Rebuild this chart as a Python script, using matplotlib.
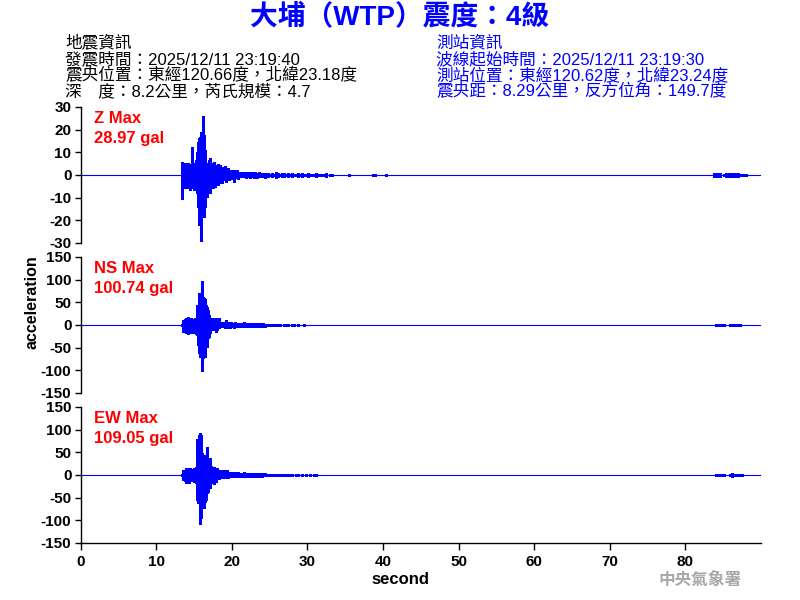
import numpy as np
import matplotlib.pyplot as plt

plt.rcParams['font.family'] = ['Liberation Sans', 'Noto Sans CJK TC']
plt.rcParams['axes.unicode_minus'] = False

# envelope of each trace, one value per pixel column (gal)
T0 = 13.42      # time of the first column (s)
STEP = 0.1322   # seconds per column

z_hi = [5.9, 5.1, 5.4, 4.4, 5.1, 4.4, 5.4, 4.0, 4.9, 3.7,
        12.5, 4.4, 4.4, 5.4, 6.6, 10.3, 14.7, 16.2, 16.9, 19.1,
        18.4, 26.2, 17.6, 11.0, 5.1, 3.7, 2.2, 6.6, 7.4, 5.1,
        2.9, 5.1, 5.9, 3.7, 4.4, 2.9, 4.9, 4.0, 4.4, 2.9,
        3.7, 2.2, 2.9, 4.0, 2.2, 2.5, 2.9, 1.5, 2.2, 1.9,
        2.2, 1.5, 1.9, 2.2, 1.5, 2.2, 1.5, 0.7, 1.3, 1.0,
        1.5, 1.0, 1.3, 1.0, 0.7, 1.3, 0.9, 1.2, 0.8, 1.0,
        1.3, 0.7, 1.0, 1.2, 0.8, 1.0, 0.7, 1.2, 0.9, 1.0,
        0.8, 1.1, 0.7, 0.9]
z_lo = [-10.7, -5.1, -4.4, -5.9, -4.4, -5.1, -5.9, -4.4, -6.6, -5.1,
        -4.4, -5.9, -6.6, -5.9, -6.6, -8.1, -14.0, -22.0, -19.8, -28.97,
        -15.4, -14.0, -18.4, -14.0, -6.6, -9.6, -6.6, -8.1, -8.1, -5.1,
        -3.7, -5.9, -2.9, -5.1, -3.7, -2.2, -4.4, -2.9, -3.4, -2.5,
        -3.7, -2.2, -1.9, -2.2, -2.9, -1.5, -1.9, -2.2, -1.5, -1.0,
        -1.9, -1.5, -2.9, -1.5, -1.0, -0.7, -1.9, -0.7, -1.0, -0.7,
        -1.0, -0.7, -1.0, -0.9, -1.2, -0.7, -1.0, -0.8, -1.3, -0.7,
        -1.0, -0.9, -1.2, -0.7, -1.0, -1.3, -0.8, -0.7, -1.1, -0.9,
        -0.7, -1.0, -0.8, -1.2]

ns_hi = [2, 11, 11, 13, 15, 12, 18, 14, 12, 15,
         11, 14, 12, 15, 13, 44, 18, 70, 55, 59,
         97, 62, 59, 57, 44, 40, 33, 22, 12, 15,
         7, 15, 10, 12, 15, 11, 7, 15, 7, 6,
         4, 6, 7, 5, 10, 6, 7, 5, 4, 6,
         3, 5, 4, 6, 3, 5, 4, 3, 5, 4,
         3, 4, 6, 3, 4, 3, 5, 3, 4, 3,
         4, 3, 5, 3, 3, 4, 3, 5, 3, 4,
         3, 4, 3, 3]
ns_lo = [-2, -15, -12, -15, -18, -14, -20, -16, -17, -13,
         -17, -15, -16, -18, -20, -22, -44, -62, -70, -66,
         -100.74, -73, -70, -70, -44, -48, -29, -26, -17, -11,
         -12, -7, -11, -7, -15, -12, -7, -7, -5, -5,
         -4, -4, -5, -7, -5, -6, -4, -5, -6, -4,
         -5, -3, -6, -4, -3, -5, -3, -4, -3, -5,
         -4, -3, -3, -5, -3, -4, -3, -4, -5, -3,
         -3, -4, -3, -5, -3, -3, -4, -3, -4, -3,
         -4, -3, -3, -4]

ew_hi = [2, 10, 10, 9, 16, 14, 15, 13, 15, 12,
         13, 11, 15, 14, 18, 79, 18, 88, 92, 88,
         48, 44, 42, 40, 44, 62, 29, 26, 37, 20,
         15, 12, 18, 15, 12, 15, 12, 11, 10, 12,
         7, 10, 7, 11, 6, 10, 5, 7, 6, 5,
         4, 6, 5, 7, 4, 5, 6, 4, 5, 3,
         5, 4, 6, 3, 4, 5, 3, 4, 5, 3,
         4, 3, 5, 4, 3, 4, 3, 5, 3, 4,
         3, 4, 3, 4]
ew_lo = [-2, -12, -12, -13, -17, -16, -15, -17, -14, -13,
         -12, -14, -15, -16, -18, -55, -62, -62, -109.05, -95,
         -62, -37, -73, -59, -55, -40, -37, -29, -29, -17,
         -15, -10, -20, -11, -15, -7, -9, -9, -7, -7,
         -5, -7, -7, -7, -5, -4, -6, -5, -4, -5,
         -3, -5, -4, -3, -5, -4, -3, -5, -4, -3,
         -4, -3, -5, -4, -3, -3, -4, -3, -4, -3,
         -3, -4, -3, -3, -4, -3, -3, -4, -3, -3,
         -4, -3, -3, -3]

# weak coda, every second column, symmetric amplitude (gal)
TAIL_T0 = 24.79
z_tail = [0.9, 0.5, 1.0, 0.5, 1.3, 0.9, 0.5, 0.9, 1.0, 0.5, 0.9, 0.5, 0.9, 0.5, 0.4, 0.9, 0.5,
          0.9, 0.4, 0.5, 0.9, 0.4, 0.5, 0.4, 0.9, 0.4, 0.4, 0.5, 0.4, 0.9, 0.0, 0.5, 0.4]
ns_tail = [3, 2, 3, 2, 2, 3, 2, 0, 3, 2, 2, 0, 3, 2, 0, 2, 0, 0, 2]
ew_tail = [3, 2, 3, 2, 3, 3, 2, 2, 3, 2, 3, 2, 2, 0, 2, 2, 0, 2, 0, 2, 0, 3, 0, 2, 2]
z_blip_t = [35.5, 38.7, 39.0, 40.4]
z_blip_a = [0.6, 0.4, 0.4, 0.5]

# small burst near the end of the record
LATE_T0 = 83.74
z_late = [0.9, 0.9, 0.9, 0.9, 0.0, 0.5, 0.9, 0.9, 0.9, 0.9, 0.9, 0.9, 0.9, 0.5, 0.5, 0.4, 0.4]
ns_late = [0, 2, 2, 2, 2, 2, 0, 0, 2, 3, 3, 3, 2, 2, 0, 0, 0]
ew_late = [0, 2, 2, 3, 2, 2, 0, 0, 2, 4, 3, 3, 2, 3, 2, 0, 0]

comps = ['Z', 'NS', 'EW']
peaks = ['28.97', '100.74', '109.05']
ylims = [30, 150, 150]
ystep = [10, 50, 50]

eq_info = ['地震資訊',
           '發震時間：2025/12/11 23:19:40',
           '震央位置：東經120.66度，北緯23.18度',
           '深\u3000度：8.2公里，芮氏規模：4.7']
st_info = ['測站資訊',
           '波線起始時間：2025/12/11 23:19:30',
           '測站位置：東經120.62度，北緯23.24度',
           '震央距：8.29公里，反方位角：149.7度']

BLUE = '#0000ff'
traces = [(z_hi, z_lo, z_tail, z_late), (ns_hi, ns_lo, ns_tail, ns_late),
          (ew_hi, ew_lo, ew_tail, ew_late)]

fig = plt.figure(figsize=(8, 6), dpi=100)
left, width = 80.5 / 800, (761 - 80.5) / 800
rows = [(107, 243), (257, 393), (407, 543)]

for i, (top, bot) in enumerate(rows):
    ax = fig.add_axes([left, 1 - bot / 600, width, (bot - top) / 600])
    hi, lo, tail, late = traces[i]
    t = T0 + STEP * np.arange(len(hi))
    ax.vlines(t, lo, hi, color=BLUE, lw=0.75, antialiased=False)
    tt = TAIL_T0 + 2 * STEP * np.arange(len(tail))
    a = np.array(tail, dtype=float)
    ax.vlines(tt, -a, a, color=BLUE, lw=0.75, antialiased=False)
    tl = LATE_T0 + 2 * STEP * np.arange(len(late))
    a = np.array(late, dtype=float)
    ax.vlines(tl, -a, a, color=BLUE, lw=0.75, antialiased=False)
    if i == 0:
        a = np.array(z_blip_a)
        ax.vlines(z_blip_t, -a, a, color=BLUE, lw=0.75, antialiased=False)
    ax.axhline(0, color=BLUE, lw=0.8)

    ax.set_xlim(0, 90)
    ax.set_ylim(-ylims[i], ylims[i])
    ax.set_yticks(np.arange(-ylims[i], ylims[i] + 1, ystep[i]))
    for s in ['top', 'right']:
        ax.spines[s].set_visible(False)
    ax.spines['left'].set_linewidth(1.0)
    ax.spines['bottom'].set_linewidth(1.0)
    ax.tick_params(axis='y', length=4, width=1.0, pad=2.5, labelsize=11)
    ax.tick_params(axis='x', length=5, width=1.0, pad=3.5, labelsize=11)
    for lab in ax.get_yticklabels() + ax.get_xticklabels():
        lab.set_fontweight('bold')
    if i < 2:
        ax.spines['bottom'].set_visible(False)
        ax.tick_params(axis='x', bottom=False, labelbottom=False)
    else:
        ax.set_xticks(np.arange(0, 81, 10))
    ax.text(0.02, 0.919, f'{comps[i]} Max', transform=ax.transAxes, color='red',
            fontsize=12, fontweight='bold', va='center')
    ax.text(0.02, 0.772, f'{peaks[i]} gal', transform=ax.transAxes, color='red',
            fontsize=12, fontweight='bold', va='center')

fig.text(32 / 800, 1 - 302 / 600, 'acceleration', rotation=90, ha='center', va='center',
         fontsize=11.5, fontweight='bold')
fig.text(400 / 800, 1 - 580 / 600, 'second', ha='center', va='center',
         fontsize=12, fontweight='bold')

fig.text(0.5, 1 - 18 / 600, '大埔（WTP）震度：4級', ha='center', va='center',
         fontsize=20, fontweight='bold', color=BLUE)
for k, y in enumerate([43, 59, 75, 91]):
    fig.text(65 / 800, 1 - y / 600, eq_info[k], ha='left', va='center',
             fontsize=12, color='black')
    fig.text(436 / 800, 1 - y / 600, st_info[k], ha='left', va='center',
             fontsize=12, color=BLUE)

fig.text(700 / 800, 1 - 580 / 600, '中央氣象署', ha='center', va='center',
         fontsize=12, fontweight='bold', color='#a8a8a8')

fig.savefig('out.png', dpi=100)
